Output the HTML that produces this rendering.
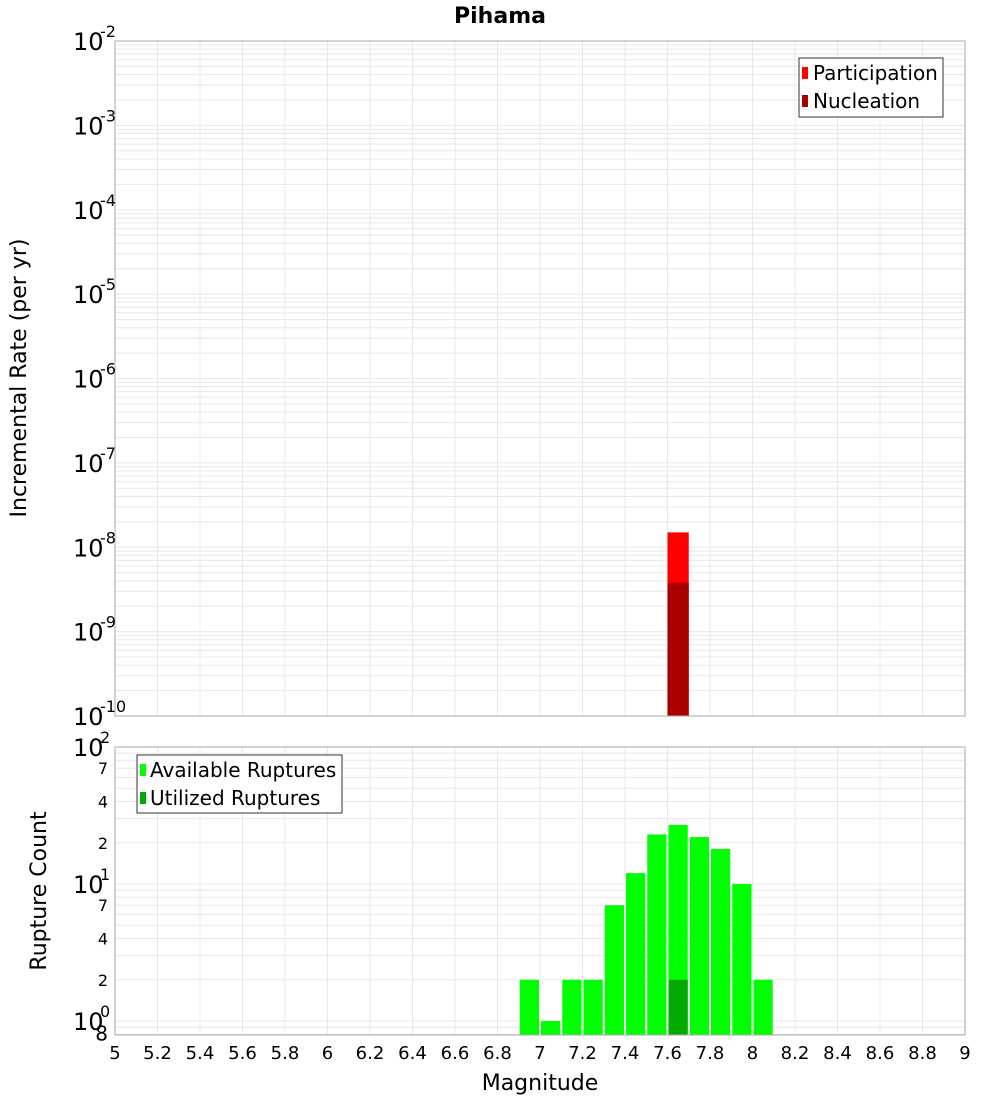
<!DOCTYPE html>
<html><head><meta charset="utf-8"><style>
body{margin:0;background:#fff;width:1000px;height:1100px;overflow:hidden}
svg{font-family:"DejaVu Sans","Liberation Sans",sans-serif}
</style></head><body>
<svg id="c" width="1000" height="1100" xmlns="http://www.w3.org/2000/svg">
<text x="500" y="23" text-anchor="middle" font-size="22" font-weight="bold">Pihama</text>
<g id="gtop"></g>
<g id="gbot"></g>
<text transform="translate(26,378) rotate(-90)" text-anchor="middle" font-size="22">Incremental Rate (per yr)</text>
<text transform="translate(46,891) rotate(-90)" text-anchor="middle" font-size="22">Rupture Count</text>
<text x="540" y="1090" text-anchor="middle" font-size="22">Magnitude</text>
<g>
<rect x="799" y="58" width="144" height="59" fill="#fff" stroke="#333"/>
<rect x="802" y="67" width="6" height="12" fill="#ff0000"/>
<text x="813" y="80" font-size="20">Participation</text>
<rect x="802" y="95" width="6" height="12" fill="#aa0000"/>
<text x="813" y="108" font-size="20">Nucleation</text>
</g>
<g>
<rect x="137" y="755" width="205" height="58" fill="#fff" stroke="#333"/>
<rect x="140" y="764" width="6" height="12" fill="#00ff00"/>
<text x="150" y="777" font-size="20">Available Ruptures</text>
<rect x="140" y="792" width="6" height="12" fill="#00aa00"/>
<text x="150" y="805" font-size="20">Utilized Ruptures</text>
</g>
</svg>
<script>
const rateMags=[7.65];
const participation=[1.5e-8];
const nucleation=[3.8e-9];
const countMags=[6.95,7.05,7.15,7.25,7.35,7.45,7.55,7.65,7.75,7.85,7.95,8.05];
const available=[2,1,2,2,7,12,23,27,22,18,10,2];
const utilizedMags=[7.65];
const utilized=[2];
const xTicks=["5","5.2","5.4","5.6","5.8","6","6.2","6.4","6.6","6.8","7","7.2","7.4","7.6","7.8","8","8.2","8.4","8.6","8.8","9"];
const topExps=[-2,-3,-4,-5,-6,-7,-8,-9,-10];

const NS="http://www.w3.org/2000/svg";
const X0=115,X1=965;
const xs=m=>X0+(m-5)/4*(X1-X0);
const T0=41,T1=716;
const yTop=v=>T0+(-2-Math.log10(v))*(T1-T0)/8;
const B0=747,B1=1035,BD=137;
const yBot=v=>B0+(2-Math.log10(v))*BD;
function mk(p,tag,a){const e=document.createElementNS(NS,tag);for(const k in a)e.setAttribute(k,a[k]);p.appendChild(e);return e;}
const gTop=document.getElementById('gtop'),gBot=document.getElementById('gbot');
mk(gTop,'rect',{x:X0,y:T0,width:X1-X0,height:T1-T0,fill:'#fff'});
mk(gBot,'rect',{x:X0,y:B0,width:X1-X0,height:B1-B0,fill:'#fff'});
for(let e=-10;e<-2;e++)for(let k=1;k<10;k++){const y=yTop(k*Math.pow(10,e));
 const l=mk(gTop,'line',{x1:X0,x2:X1,y1:y,y2:y,stroke:'#e8e8e8','stroke-width':1});
 
 }
for(let e=-1;e<2;e++)for(let k=1;k<10;k++){const y=yBot(k*Math.pow(10,e));if(y<B0||y>B1)continue;
 const l=mk(gBot,'line',{x1:X0,x2:X1,y1:y,y2:y,stroke:'#e8e8e8','stroke-width':1});
 
 }
xTicks.forEach((t,i)=>{const x=xs(parseFloat(t));
 [[T0,T1,gTop],[B0,B1,gBot]].forEach(([a,b,g])=>{const l=mk(g,'line',{x1:x,x2:x,y1:a,y2:b,stroke:'#e8e8e8'});
 
 });
 const tx=mk(gBot,'text',{x:x,y:1059,'text-anchor':'middle','font-size':18});tx.textContent=t;
 
 });
rateMags.forEach((m,i)=>{const x=xs(m-0.05),w=xs(m+0.05)-x;
 const r=mk(gTop,'rect',{x:x,y:yTop(participation[i]),width:w,height:T1-yTop(participation[i]),fill:'#ff0000'});
 
 
 const n=mk(gTop,'rect',{x:x,y:yTop(nucleation[i]),width:w,height:T1-yTop(nucleation[i]),fill:'#aa0000'});
 
 });
countMags.forEach((m,i)=>{const x=xs(m-0.05)+1,w=xs(m+0.05)-x-1;
 const r=mk(gBot,'rect',{x:x,y:yBot(available[i]),width:w,height:B1-yBot(available[i]),fill:'#00ff00'});
 
 });
utilizedMags.forEach((m,i)=>{const x=xs(m-0.05)+1,w=xs(m+0.05)-x-1;
 const r=mk(gBot,'rect',{x:x,y:yBot(utilized[i]),width:w,height:B1-yBot(utilized[i]),fill:'#00aa00'});
 
 });
mk(gTop,'rect',{x:X0,y:T0,width:X1-X0,height:T1-T0,fill:'none',stroke:'#aaa'});
mk(gBot,'rect',{x:X0,y:B0,width:X1-X0,height:B1-B0,fill:'none',stroke:'#aaa'});
topExps.forEach(e=>{const y=yTop(Math.pow(10,e));
 const t=mk(gTop,'text',{x:73,y:y+9,'font-size':24});t.textContent='10';
 
 
 const s=mk(gTop,'text',{x:100,y:y-4,'font-size':16});s.textContent=String(e);
 
 });
[[100,'2'],[10,'1'],[1,'0']].forEach(([v,e])=>{const y=yBot(v);
 const t=mk(gBot,'text',{x:73,y:y+9,'font-size':24});t.textContent='10';
 
 
 const s=mk(gBot,'text',{x:100,y:y-4,'font-size':16});s.textContent=e;
 
 });
[[70,'7'],[40,'4'],[20,'2'],[7,'7'],[4,'4'],[2,'2'],[0.8,'8']].forEach(([v,l])=>{const y=yBot(v);
 const t=mk(gBot,'text',{x:108,y:y+6,'text-anchor':'end','font-size':v==0.8?20:16});t.textContent=l;
 
 });
</script>
</body></html>
